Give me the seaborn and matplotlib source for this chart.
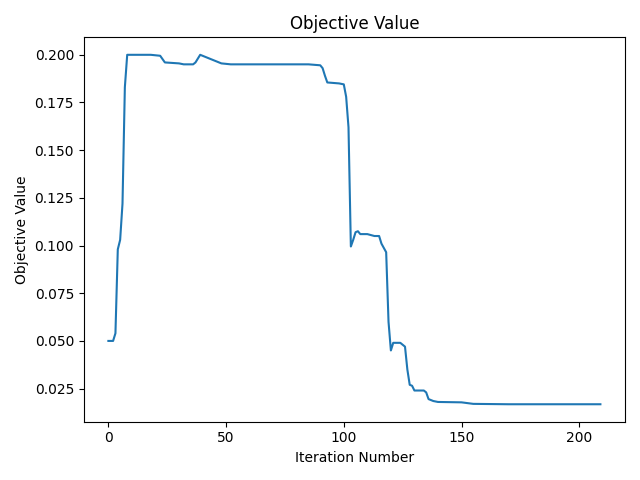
import matplotlib
matplotlib.use('Agg')
import matplotlib.pyplot as plt
import seaborn as sns

# Breakpoints
iterations = [0, 2, 3, 4, 5, 6, 7, 8, 18, 22, 24, 30, 32, 36, 37, 39, 41, 48, 52, 85,
              90, 91, 92, 93, 98, 100, 101, 102, 103, 104, 105, 106, 107, 110, 113, 115,
              116, 118, 119, 120, 121, 124, 126, 127, 128, 129, 130, 134, 135, 136, 138,
              140, 150, 155, 170, 209]
objective = [0.050, 0.050, 0.054, 0.098, 0.103, 0.122, 0.183, 0.200, 0.200, 0.1995,
             0.196, 0.1955, 0.195, 0.195, 0.196, 0.200, 0.199, 0.1955, 0.195, 0.195,
             0.1945, 0.193, 0.189, 0.1855, 0.185, 0.1845, 0.178, 0.162, 0.0995, 0.103,
             0.107, 0.1075, 0.106, 0.106, 0.105, 0.105, 0.101, 0.0965, 0.060, 0.045,
             0.049, 0.049, 0.047, 0.035, 0.027, 0.0265, 0.024, 0.024, 0.023, 0.0195,
             0.0185, 0.018, 0.0178, 0.017, 0.0168, 0.0168]

fig, ax = plt.subplots(figsize=(6.4, 4.8), dpi=100)
sns.lineplot(x=iterations, y=objective, ax=ax, color='#1f77b4', linewidth=1.5)
ax.set_title('Objective Value')
ax.set_xlabel('Iteration Number')
ax.set_ylabel('Objective Value')
plt.tight_layout()
plt.savefig('out.png', dpi=100)
